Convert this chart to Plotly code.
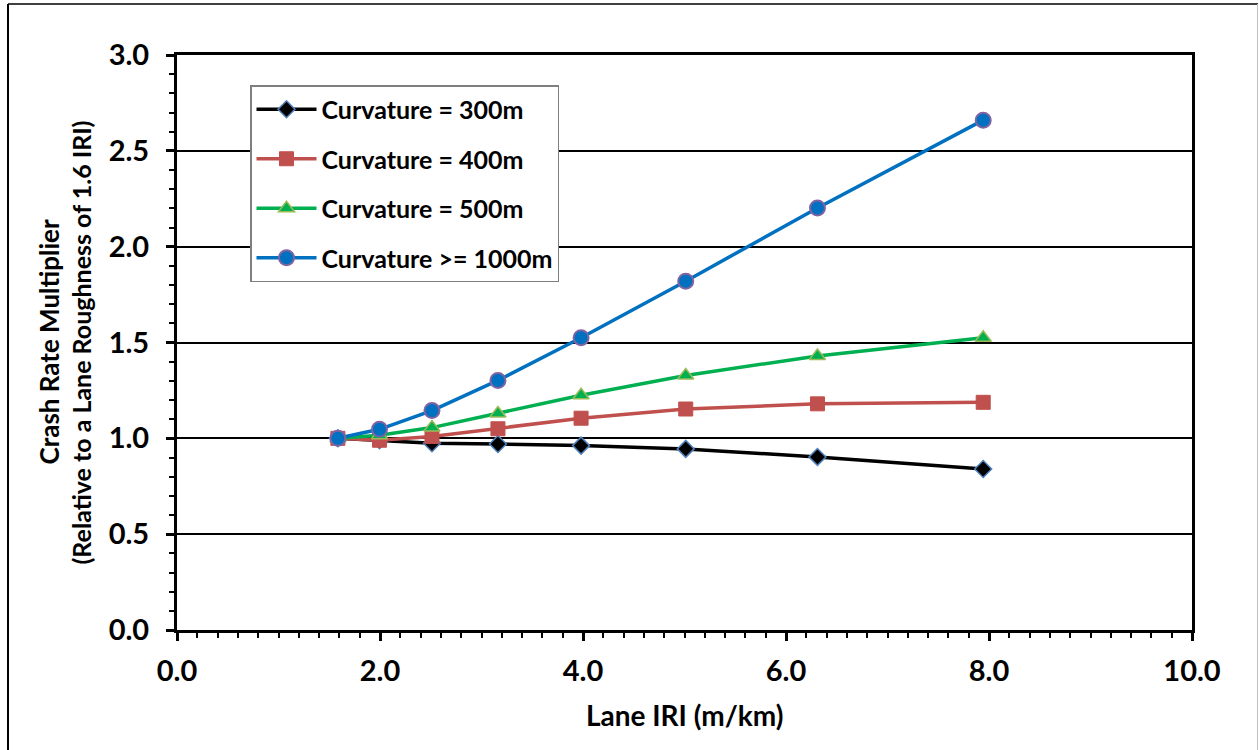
import plotly.graph_objects as go

iri = [1.585, 1.995, 2.512, 3.162, 3.981, 5.012, 6.310, 7.943]
crm_300 = [1.00, 0.99, 0.974, 0.970, 0.962, 0.945, 0.903, 0.840]
crm_400 = [1.00, 0.99, 1.010, 1.050, 1.105, 1.153, 1.180, 1.188]
crm_500 = [1.00, 1.016, 1.056, 1.130, 1.225, 1.328, 1.430, 1.525]
crm_1000 = [1.00, 1.047, 1.145, 1.302, 1.525, 1.820, 2.202, 2.660]

names = ["Curvature = 300m", "Curvature = 400m", "Curvature = 500m", "Curvature >= 1000m"]

FONT = "Lato"

fig = go.Figure()
specs = [
    (crm_300, "#000000", "diamond", "#000000", "#4f81bd", 13, 1.5),
    (crm_400, "#c0504d", "square", "#c0504d", "#c0504d", 14, 1),
    (crm_500, "#00b050", "triangle-up", "#00b050", "#9bbb59", 14, 1.5),
    (crm_1000, "#0070c0", "circle", "#0070c0", "#8064a2", 15, 2),
]
for i, (ys, lc, sym, fc, oc, sz, ow) in enumerate(specs):
    fig.add_trace(go.Scatter(
        x=iri, y=ys, mode="lines+markers", name=names[i],
        legendgroup=f"g{i}",
        line=dict(color=lc, width=3.5),
        marker=dict(symbol=sym, color=fc, size=sz, line=dict(color=oc, width=ow)),
    ))

# plot area in pixels: x 177..1192, y 55..630
L, R, T, B = 177, 1192, 55, 630
W, H = 1259, 750
pw, ph = R - L, B - T
def px(x):
    return (x - L) / pw
def py(y):
    return (B - y) / ph

axis_common = dict(
    showline=True, linecolor="black", linewidth=3, mirror=True,
    ticks="outside", ticklen=8, tickwidth=2.5, tickcolor="black",
    tickfont=dict(family=FONT, size=29, color="black", weight="bold"),
    zeroline=False,
)

fig.update_layout(
    width=W, height=H,
    margin=dict(l=L, r=W - R, t=T, b=H - B),
    paper_bgcolor="white", plot_bgcolor="white",
    xaxis=dict(range=[0, 10], dtick=2, tick0=0, tickformat=".1f", showgrid=False,
               minor=dict(dtick=0.2, ticks="outside", ticklen=5, tickwidth=2, tickcolor="black"),
               ticklabelstandoff=5,
               **axis_common),
    yaxis=dict(range=[0, 3], dtick=0.5, tick0=0, tickformat=".1f", showgrid=True,
               gridcolor="black", gridwidth=1.5,
               minor=dict(dtick=0.1, ticks="outside", ticklen=5, tickwidth=2, tickcolor="black", showgrid=False),
               ticklabelstandoff=11,
               **axis_common),
    legend=dict(
        x=px(250), y=py(85), xanchor="left", yanchor="top",
        bordercolor="#7f7f7f", borderwidth=1.5, bgcolor="white",
        font=dict(family=FONT, size=25, color="black", weight="bold"),
        itemwidth=60, tracegroupgap=14,
    ),
    showlegend=True,
)

# axis titles as annotations
fig.add_annotation(x=0.5, y=py(715), xref="paper", yref="paper",
                   xanchor="center", yanchor="middle",
                   text="Lane IRI (m/km)", showarrow=False,
                   font=dict(family=FONT, size=28, color="black", weight="bold"))
fig.add_annotation(x=px(48), y=0.5, xref="paper", yref="paper",
                   xanchor="center", yanchor="middle",
                   text="Crash Rate Multiplier", showarrow=False, textangle=-90,
                   font=dict(family=FONT, size=26, color="black", weight="bold"))
fig.add_annotation(x=px(80), y=0.5, xref="paper", yref="paper",
                   xanchor="center", yanchor="middle",
                   text="(Relative to a Lane Roughness of 1.6 IRI)", showarrow=False, textangle=-90,
                   font=dict(family=FONT, size=25, color="black", weight="bold"))

# outer frame of the figure
fig.add_shape(type="line", xref="paper", yref="paper", x0=px(8), x1=px(8), y0=py(4), y1=py(760),
              line=dict(color="black", width=2))
fig.add_shape(type="line", xref="paper", yref="paper", x0=px(8), x1=px(1258), y0=py(4), y1=py(4),
              line=dict(color="black", width=1.5))
fig.add_shape(type="line", xref="paper", yref="paper", x0=px(1257.5), x1=px(1257.5), y0=py(4), y1=py(760),
              line=dict(color="#bfbfbf", width=1))

fig.write_html("out.html", config={"displayModeBar": False},
               post_script="document.body.style.margin='0px';")
